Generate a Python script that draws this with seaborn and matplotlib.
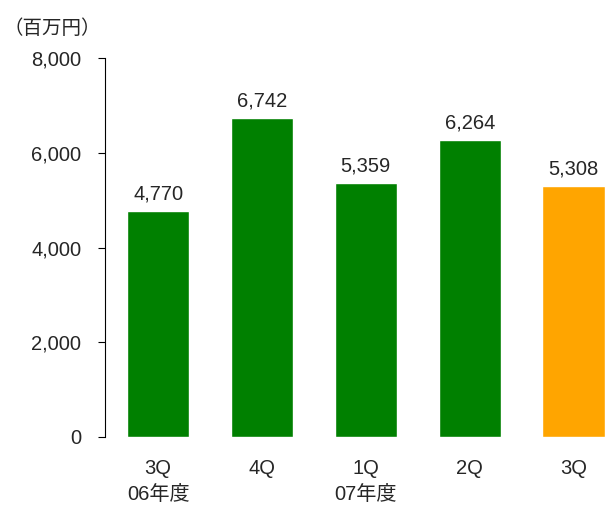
import matplotlib
matplotlib.use("Agg")
import matplotlib.pyplot as plt
import seaborn as sns
import pandas as pd

quarters = ["3Q\n06年度", "4Q", "1Q\n07年度", "2Q", "3Q"]
values = [4770, 6742, 5359, 6264, 5308]
colors = ["#008000", "#008000", "#008000", "#008000", "#FFA500"]

sns.set_style("white")
plt.rcParams['font.family'] = ['Liberation Sans', 'Noto Sans CJK JP']

df = pd.DataFrame({"q": range(len(values)), "v": values})
fig = plt.figure(figsize=(6.11, 5.19), dpi=100)
ax = fig.add_axes([0.172, 0.158, 0.828, 0.73])
sns.barplot(data=df, x="q", y="v", hue="q", palette=colors, legend=False,
            width=0.6, saturation=1, ax=ax)
for i, v in enumerate(values):
    ax.text(i, v + 160, f"{v:,}", ha="center", va="bottom", fontsize=14.5)
ax.set_xlim(-0.51, 4.36)
ax.set_ylim(0, 8000)
ax.set_yticks(range(0, 8001, 2000))
ax.set_yticklabels([f"{t:,}" for t in range(0, 8001, 2000)], fontsize=14.5)
ax.set_xticks(range(len(values)))
ax.set_xticklabels(quarters, fontsize=14.5, linespacing=1.5, va="top")
ax.tick_params(axis="y", left=True, length=5, color="black", pad=12)
ax.tick_params(axis="x", bottom=False, pad=12)
ax.set_xlabel("")
ax.set_ylabel("")
for s in ["top", "right", "bottom"]:
    ax.spines[s].set_visible(False)
ax.spines["left"].set_color("black")
fig.text(0.005, 0.935, "（百万円）", fontsize=14, family=['Noto Sans CJK JP'])
fig.savefig("out.png", dpi=100)
